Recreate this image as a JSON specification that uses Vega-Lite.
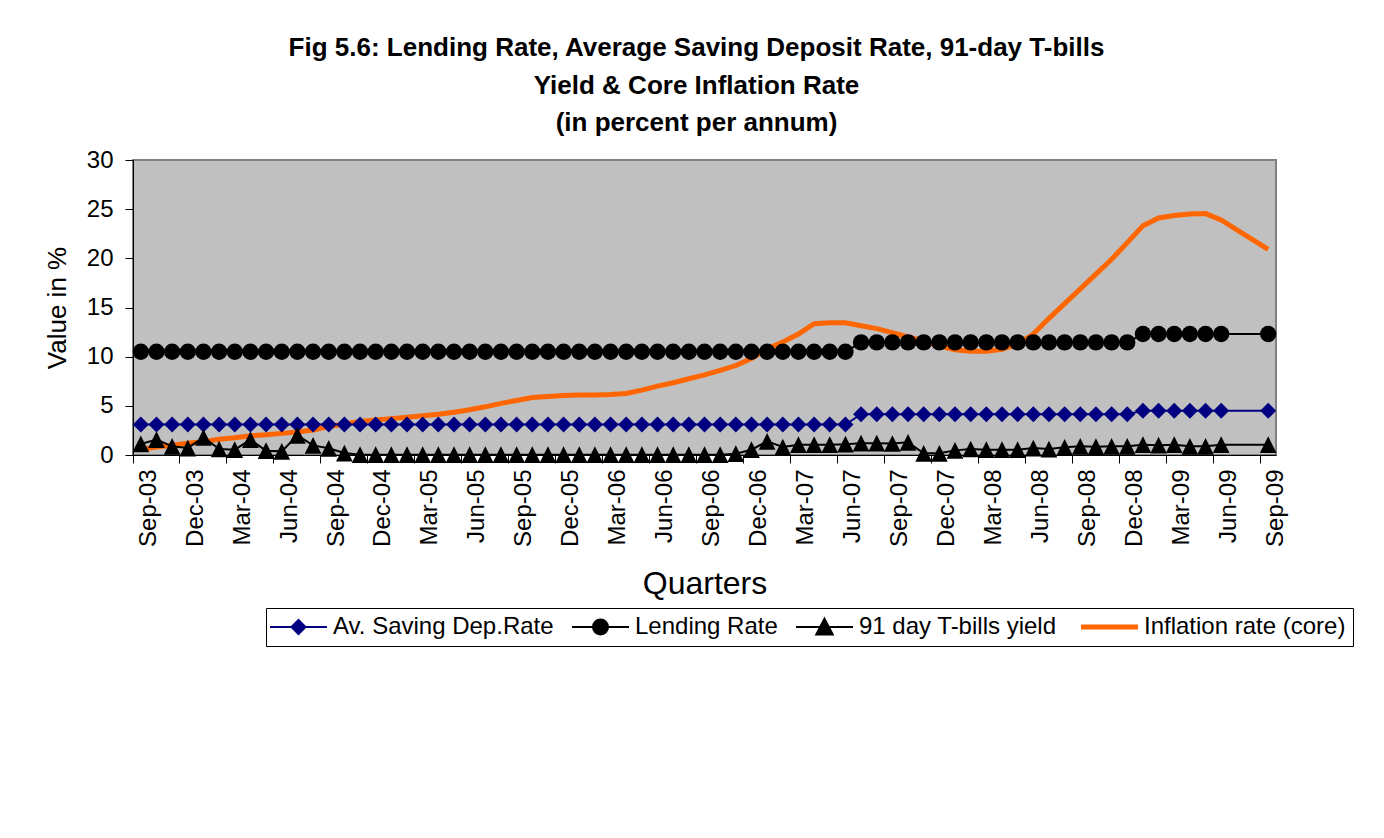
{
  "$schema": "https://vega.github.io/schema/vega-lite/v6.json",
  "width": 1143,
  "height": 295,
  "autosize": {"type": "none"},
  "padding": {"left": 133, "top": 160, "right": 108, "bottom": 383},
  "background": "white",
  "view": {"fill": "#C0C0C0", "stroke": "#808080", "strokeWidth": 2},
  "title": {
    "text": ["Fig 5.6: Lending Rate, Average Saving Deposit Rate, 91-day T-bills", "Yield & Core Inflation Rate", "(in percent per annum)"],
    "font": "Liberation Sans",
    "fontSize": 26,
    "fontWeight": "bold",
    "lineHeight": 37.5,
    "color": "black",
    "anchor": "middle",
    "dx": -8,
    "offset": 12
  },
  "data": {
    "values": [
      {"m": "Sep-03", "sav": 3.1, "lend": 10.5, "tb": 1.12, "inf": 0.55},
      {"m": "Oct-03", "sav": 3.1, "lend": 10.5, "tb": 1.56, "inf": 0.8},
      {"m": "Nov-03", "sav": 3.1, "lend": 10.5, "tb": 0.88, "inf": 1.0},
      {"m": "Dec-03", "sav": 3.1, "lend": 10.5, "tb": 0.71, "inf": 1.2},
      {"m": "Jan-04", "sav": 3.1, "lend": 10.5, "tb": 1.8, "inf": 1.35},
      {"m": "Feb-04", "sav": 3.1, "lend": 10.5, "tb": 0.61, "inf": 1.6},
      {"m": "Mar-04", "sav": 3.1, "lend": 10.5, "tb": 0.54, "inf": 1.75},
      {"m": "Apr-04", "sav": 3.1, "lend": 10.5, "tb": 1.56, "inf": 1.95},
      {"m": "May-04", "sav": 3.1, "lend": 10.5, "tb": 0.44, "inf": 2.05},
      {"m": "Jun-04", "sav": 3.1, "lend": 10.5, "tb": 0.37, "inf": 2.2},
      {"m": "Jul-04", "sav": 3.1, "lend": 10.5, "tb": 2.0, "inf": 2.35},
      {"m": "Aug-04", "sav": 3.1, "lend": 10.5, "tb": 0.98, "inf": 2.55},
      {"m": "Sep-04", "sav": 3.1, "lend": 10.5, "tb": 0.68, "inf": 2.9},
      {"m": "Oct-04", "sav": 3.1, "lend": 10.5, "tb": 0.2, "inf": 3.15},
      {"m": "Nov-04", "sav": 3.1, "lend": 10.5, "tb": 0.03, "inf": 3.4},
      {"m": "Dec-04", "sav": 3.1, "lend": 10.5, "tb": 0.03, "inf": 3.55},
      {"m": "Jan-05", "sav": 3.1, "lend": 10.5, "tb": 0.03, "inf": 3.7},
      {"m": "Feb-05", "sav": 3.1, "lend": 10.5, "tb": 0.03, "inf": 3.85},
      {"m": "Mar-05", "sav": 3.1, "lend": 10.5, "tb": 0.03, "inf": 4.0},
      {"m": "Apr-05", "sav": 3.1, "lend": 10.5, "tb": 0.03, "inf": 4.15},
      {"m": "May-05", "sav": 3.1, "lend": 10.5, "tb": 0.03, "inf": 4.35},
      {"m": "Jun-05", "sav": 3.1, "lend": 10.5, "tb": 0.03, "inf": 4.6},
      {"m": "Jul-05", "sav": 3.1, "lend": 10.5, "tb": 0.03, "inf": 4.9},
      {"m": "Aug-05", "sav": 3.1, "lend": 10.5, "tb": 0.03, "inf": 5.25},
      {"m": "Sep-05", "sav": 3.1, "lend": 10.5, "tb": 0.03, "inf": 5.55},
      {"m": "Oct-05", "sav": 3.1, "lend": 10.5, "tb": 0.03, "inf": 5.85},
      {"m": "Nov-05", "sav": 3.1, "lend": 10.5, "tb": 0.03, "inf": 5.95},
      {"m": "Dec-05", "sav": 3.1, "lend": 10.5, "tb": 0.03, "inf": 6.05},
      {"m": "Jan-06", "sav": 3.1, "lend": 10.5, "tb": 0.03, "inf": 6.1},
      {"m": "Feb-06", "sav": 3.1, "lend": 10.5, "tb": 0.03, "inf": 6.1},
      {"m": "Mar-06", "sav": 3.1, "lend": 10.5, "tb": 0.03, "inf": 6.15},
      {"m": "Apr-06", "sav": 3.1, "lend": 10.5, "tb": 0.03, "inf": 6.25},
      {"m": "May-06", "sav": 3.1, "lend": 10.5, "tb": 0.03, "inf": 6.6},
      {"m": "Jun-06", "sav": 3.1, "lend": 10.5, "tb": 0.03, "inf": 7.0},
      {"m": "Jul-06", "sav": 3.1, "lend": 10.5, "tb": 0.03, "inf": 7.35},
      {"m": "Aug-06", "sav": 3.1, "lend": 10.5, "tb": 0.03, "inf": 7.75},
      {"m": "Sep-06", "sav": 3.1, "lend": 10.5, "tb": 0.03, "inf": 8.15},
      {"m": "Oct-06", "sav": 3.1, "lend": 10.5, "tb": 0.03, "inf": 8.6},
      {"m": "Nov-06", "sav": 3.1, "lend": 10.5, "tb": 0.13, "inf": 9.1},
      {"m": "Dec-06", "sav": 3.1, "lend": 10.5, "tb": 0.54, "inf": 9.8},
      {"m": "Jan-07", "sav": 3.1, "lend": 10.5, "tb": 1.39, "inf": 10.8},
      {"m": "Feb-07", "sav": 3.1, "lend": 10.5, "tb": 0.81, "inf": 11.5},
      {"m": "Mar-07", "sav": 3.1, "lend": 10.5, "tb": 1.05, "inf": 12.3},
      {"m": "Apr-07", "sav": 3.1, "lend": 10.5, "tb": 1.05, "inf": 13.35},
      {"m": "May-07", "sav": 3.1, "lend": 10.5, "tb": 1.05, "inf": 13.45},
      {"m": "Jun-07", "sav": 3.1, "lend": 10.5, "tb": 1.1, "inf": 13.45},
      {"m": "Jul-07", "sav": 4.15, "lend": 11.45, "tb": 1.2, "inf": 13.15},
      {"m": "Aug-07", "sav": 4.15, "lend": 11.45, "tb": 1.2, "inf": 12.85},
      {"m": "Sep-07", "sav": 4.15, "lend": 11.45, "tb": 1.17, "inf": 12.45},
      {"m": "Oct-07", "sav": 4.15, "lend": 11.45, "tb": 1.29, "inf": 12.0},
      {"m": "Nov-07", "sav": 4.15, "lend": 11.45, "tb": 0.17, "inf": 11.6},
      {"m": "Dec-07", "sav": 4.15, "lend": 11.45, "tb": 0.17, "inf": 11.1},
      {"m": "Jan-08", "sav": 4.15, "lend": 11.45, "tb": 0.47, "inf": 10.7},
      {"m": "Feb-08", "sav": 4.15, "lend": 11.45, "tb": 0.61, "inf": 10.55},
      {"m": "Mar-08", "sav": 4.15, "lend": 11.45, "tb": 0.54, "inf": 10.55},
      {"m": "Apr-08", "sav": 4.15, "lend": 11.45, "tb": 0.54, "inf": 10.75},
      {"m": "May-08", "sav": 4.15, "lend": 11.45, "tb": 0.54, "inf": 11.3},
      {"m": "Jun-08", "sav": 4.15, "lend": 11.45, "tb": 0.71, "inf": 12.3},
      {"m": "Jul-08", "sav": 4.15, "lend": 11.45, "tb": 0.6, "inf": 13.9},
      {"m": "Aug-08", "sav": 4.15, "lend": 11.45, "tb": 0.78, "inf": 15.4},
      {"m": "Sep-08", "sav": 4.15, "lend": 11.45, "tb": 0.88, "inf": 16.9},
      {"m": "Oct-08", "sav": 4.15, "lend": 11.45, "tb": 0.85, "inf": 18.4},
      {"m": "Nov-08", "sav": 4.15, "lend": 11.45, "tb": 0.88, "inf": 19.9},
      {"m": "Dec-08", "sav": 4.15, "lend": 11.45, "tb": 0.88, "inf": 21.6},
      {"m": "Jan-09", "sav": 4.5, "lend": 12.3, "tb": 1.05, "inf": 23.3},
      {"m": "Feb-09", "sav": 4.5, "lend": 12.3, "tb": 1.0, "inf": 24.1},
      {"m": "Mar-09", "sav": 4.5, "lend": 12.3, "tb": 1.05, "inf": 24.35},
      {"m": "Apr-09", "sav": 4.5, "lend": 12.3, "tb": 0.88, "inf": 24.5},
      {"m": "May-09", "sav": 4.5, "lend": 12.3, "tb": 0.88, "inf": 24.55},
      {"m": "Jun-09", "sav": 4.5, "lend": 12.3, "tb": 1.05, "inf": 23.9},
      {"m": "Jul-09", "sav": null, "lend": null, "tb": null, "inf": 22.9},
      {"m": "Aug-09", "sav": null, "lend": null, "tb": null, "inf": 21.9},
      {"m": "Sep-09", "sav": 4.5, "lend": 12.3, "tb": 1.05, "inf": 20.9}
    ]
  },
  "transform": [
    {"fold": ["sav", "lend", "tb", "inf"], "as": ["key", "value"]},
    {"filter": "isValid(datum.value)"}
  ],
  "encoding": {
    "x": {
      "field": "m",
      "type": "ordinal",
      "scale": {
        "type": "band",
        "paddingInner": 0,
        "paddingOuter": 0,
        "domain": ["Sep-03","Oct-03","Nov-03","Dec-03","Jan-04","Feb-04","Mar-04","Apr-04","May-04","Jun-04","Jul-04","Aug-04","Sep-04","Oct-04","Nov-04","Dec-04","Jan-05","Feb-05","Mar-05","Apr-05","May-05","Jun-05","Jul-05","Aug-05","Sep-05","Oct-05","Nov-05","Dec-05","Jan-06","Feb-06","Mar-06","Apr-06","May-06","Jun-06","Jul-06","Aug-06","Sep-06","Oct-06","Nov-06","Dec-06","Jan-07","Feb-07","Mar-07","Apr-07","May-07","Jun-07","Jul-07","Aug-07","Sep-07","Oct-07","Nov-07","Dec-07","Jan-08","Feb-08","Mar-08","Apr-08","May-08","Jun-08","Jul-08","Aug-08","Sep-08","Oct-08","Nov-08","Dec-08","Jan-09","Feb-09","Mar-09","Apr-09","May-09","Jun-09","Jul-09","Aug-09","Sep-09"]
      },
      "axis": {
        "values": ["Sep-03","Dec-03","Mar-04","Jun-04","Sep-04","Dec-04","Mar-05","Jun-05","Sep-05","Dec-05","Mar-06","Jun-06","Sep-06","Dec-06","Mar-07","Jun-07","Sep-07","Dec-07","Mar-08","Jun-08","Sep-08","Dec-08","Mar-09","Jun-09","Sep-09"],
        "bandPosition": 0,
        "labelOffset": 7.8,
        "labelAngle": -90,
        "labelFont": "Liberation Sans",
        "labelFontSize": 24,
        "labelColor": "black",
        "labelPadding": 6,
        "tickColor": "black",
        "tickSize": 8,
        "domainColor": "black",
        "grid": false,
        "title": "Quarters",
        "titleFont": "Liberation Sans",
        "titleFontSize": 32,
        "titleFontWeight": "normal",
        "titleColor": "black",
        "titlePadding": 22
      }
    },
    "y": {
      "field": "value",
      "type": "quantitative",
      "scale": {"domain": [0, 30], "nice": false, "zero": true},
      "axis": {
        "values": [0, 5, 10, 15, 20, 25, 30],
        "labelFont": "Liberation Sans",
        "labelFontSize": 24,
        "labelColor": "black",
        "labelPadding": 12,
        "tickColor": "black",
        "tickSize": 8,
        "domainColor": "black",
        "grid": false,
        "title": "Value in %",
        "titleFont": "Liberation Sans",
        "titleFontSize": 26,
        "titleFontWeight": "normal",
        "titleColor": "black",
        "titlePadding": 16
      }
    },
    "color": {
      "field": "key",
      "type": "nominal",
      "scale": {"domain": ["sav", "lend", "tb", "inf"], "range": ["#000080", "#000000", "#000000", "#FF6600"]},
      "legend": {
        "title": null,
        "orient": "none",
        "legendX": 133,
        "legendY": 448,
        "direction": "horizontal",
        "columns": 4,
        "columnPadding": 14,
        "padding": 7,
        "strokeColor": "black",
        "fillColor": "white",
        "labelFont": "Liberation Sans",
        "labelFontSize": 24,
        "labelColor": "black",
        "labelOffset": 36,
        "labelLimit": 400,
        "symbolSize": 900,
        "labelExpr": "datum.value === 'sav' ? 'Av. Saving Dep.Rate' : datum.value === 'lend' ? 'Lending Rate' : datum.value === 'tb' ? '91 day T-bills yield' : 'Inflation rate (core)'",
        "encode": {
          "symbols": {
            "update": {
              "shape": {"signal": "datum.value === 'sav' ? 'M-1,0L2.8,0M0.9,-0.47L1.37,0L0.9,0.47L0.43,0Z' : datum.value === 'lend' ? 'M-1,0L2.8,0M0.4,0A0.5,0.5 0 1,0 1.4,0A0.5,0.5 0 1,0 0.4,0Z' : datum.value === 'tb' ? 'M-1,0L2.8,0M0.9,-0.55L1.45,0.5L0.35,0.5Z' : 'M-1,0L2.8,0'"},
              "fill": {"signal": "datum.value === 'inf' ? 'transparent' : datum.value === 'sav' ? '#000080' : '#000000'"},
              "stroke": {"signal": "datum.value === 'inf' ? '#FF6600' : datum.value === 'sav' ? '#000080' : '#000000'"},
              "strokeWidth": {"signal": "datum.value === 'inf' ? 5 : 2"},
              "opacity": {"value": 1},
              "size": {"value": 900}
            }
          }
        }
      }
    }
  },
  "layer": [
    {
      "transform": [{"filter": "datum.key === 'inf'"}],
      "mark": {"type": "line", "interpolate": "linear", "strokeWidth": 5}
    },
    {
      "transform": [{"filter": "datum.key !== 'inf'"}],
      "mark": {"type": "line", "interpolate": "linear", "strokeWidth": 2}
    },
    {
      "transform": [{"filter": "datum.key !== 'inf'"}],
      "mark": {"type": "point", "filled": true, "opacity": 1, "strokeWidth": 0},
      "encoding": {
        "shape": {
          "field": "key",
          "type": "nominal",
          "scale": {"domain": ["sav", "lend", "tb"], "range": ["diamond", "circle", "M0,-1L1,1L-1,1Z"]},
          "legend": null
        },
        "size": {
          "field": "key",
          "type": "ordinal",
          "scale": {"domain": ["sav", "lend", "tb"], "range": [256, 280, 300]},
          "legend": null
        }
      }
    }
  ]
}
